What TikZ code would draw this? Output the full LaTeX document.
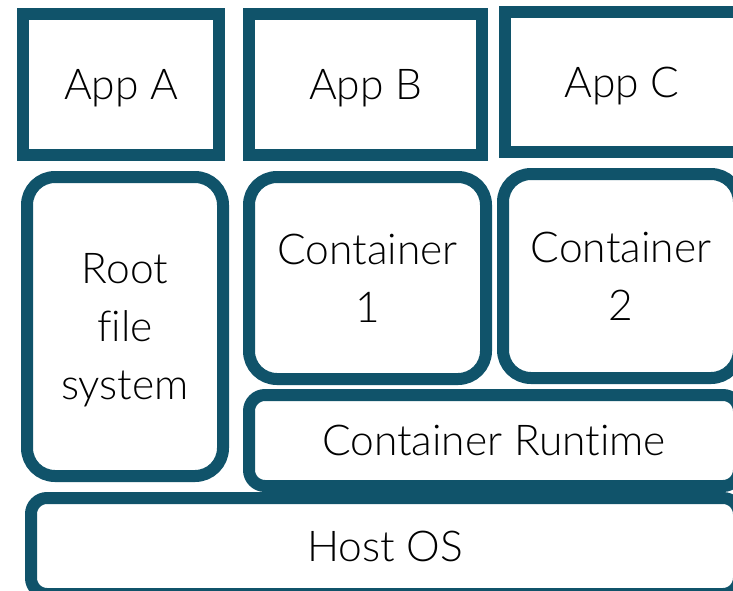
\documentclass[tikz,border=0pt]{standalone}
\usepackage{fontspec}
\setmainfont{Lato}[UprightFont={* Light},Ligatures=NoCommon]
\definecolor{boxteal}{HTML}{10536A}
\tikzset{
  layer/.style={draw=boxteal,line width=12pt,fill=white,inner sep=0pt,align=center,
    text depth=0pt,font=\fontsize{42.5}{58}\selectfont},
  appbox/.style={layer},
  partbox/.style={layer,rounded corners=28pt},
  basebox/.style={layer,rounded corners=16pt}
}
\begin{document}
\begin{tikzpicture}[x=1pt,y=-1pt]
\useasboundingbox (0,0) rectangle (733,590);
% applications
\node[appbox,minimum width=196pt,minimum height=141pt] (appA) at (121,84.5) {App A};
\node[appbox,minimum width=233pt,minimum height=141pt] (appB) at (365.5,84.5) {App B};
\node[appbox,minimum width=234pt,minimum height=140pt] (appC) at (622,82) {App C};
% middle layer
\node[partbox,minimum width=196pt,minimum height=299pt] (rootfs) at (125,326.5) {Root\\file\\system};
\node[partbox,minimum width=237pt,minimum height=202pt] (cont1) at (367.5,278) {Container\\1};
\node[partbox,minimum width=236pt,minimum height=204pt] (cont2) at (621,276) {Container\\2};
% base layers
\node[basebox,minimum width=490pt,minimum height=91pt] (runtime) at (494,440.5) {Container Runtime};
\node[basebox,minimum width=708pt,minimum height=96pt] (hostos) at (385,546) {Host OS};
\end{tikzpicture}
\end{document}
